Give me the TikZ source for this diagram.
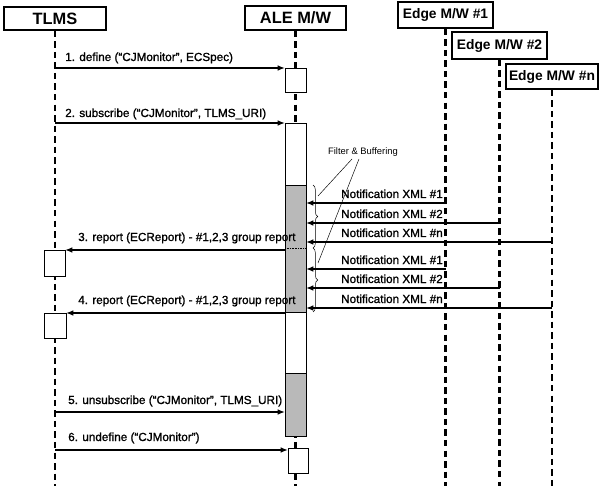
\documentclass[tikz,border=0pt]{standalone}
\usepackage{fontspec}
\setmainfont{Liberation Sans}
\newfontfamily\scanfont{Liberation Sans}[FakeBold=1.2]
\usetikzlibrary{arrows.meta,decorations.pathreplacing}

\begin{document}
\begin{tikzpicture}[x=0.03cm, y=-0.03cm,
      obj/.style={draw, line width=1.3pt, fill=white, inner sep=0pt,
        font=\bfseries\fontsize{14}{16}\selectfont},
      edgeobj/.style={obj, font=\bfseries\fontsize{11.8}{14}\selectfont},
      lifeline/.style={line width=2pt, dash pattern=on 5.5pt off 3.5pt},
      msg/.style={-{Latex[length=2.2mm, width=1.7mm]}, line width=1.2pt},
      lbl/.style={font=\scanfont\fontsize{10}{12}\selectfont, inner sep=0pt},
      act/.style={draw, thin, fill=white},
      busy/.style={draw, thin, fill=gray!55},
      note/.style={font=\fontsize{8}{10}\selectfont, inner sep=1pt},
    ]
    \useasboundingbox (0,0) rectangle (599,486);
    \coordinate (bottom) at (0,486);

    % Objects
    \node[obj, minimum width=3.06cm, minimum height=0.69cm] (tlms) at (55,18.5) {TLMS};
    \node[obj, minimum width=3.03cm, minimum height=0.72cm] (ale) at (295.5,18) {ALE M/W};
    \node[edgeobj, minimum width=2.85cm, minimum height=0.78cm] (e1) at (445.5,15) {Edge M/W \#1};
    \node[edgeobj, minimum width=2.85cm, minimum height=0.81cm] (e2) at (499.5,45.5) {Edge M/W \#2};
    \node[edgeobj, minimum width=2.76cm, minimum height=0.75cm] (en) at (552,76.5) {Edge M/W \#n};

    % Lifelines
    \foreach \o in {tlms, ale, e1, e2, en}
      \draw[lifeline] (\o.south) -- (\o |- bottom);

    % ALE activations
    \draw[act] (285,68) rectangle (306,92);
    \draw[act] (285,123) rectangle (306,185);
    \draw[busy] (285,185) rectangle (306,312);
    \draw[densely dotted] (285,248) -- (306,248);
    \draw[act] (285,312) rectangle (306,373);
    \draw[busy] (285,373) rectangle (306,436);
    \draw[act] (288,448) rectangle (308,473);

    % TLMS activations
    \draw[act] (44,250) rectangle (65,276);
    \draw[act] (44,313) rectangle (66,338);

    % Requests from TLMS
    \foreach \y/\x in {68/285, 123/285, 412/285, 450/288} {
      \coordinate (r\y) at (\x,\y);
      \draw[msg] (tlms |- r\y) -- (r\y);
    }
    \node[lbl, anchor=base west] (l1) at (65,61) {1. define (“CJMonitor”, ECSpec)};
    \node[lbl, anchor=base west] (l2) at (65,117) {2. subscribe (“CJMonitor”, TLMS\_URI)};
    \node[lbl, anchor=base west] (l5) at (68,404) {5. unsubscribe (“CJMonitor”, TLMS\_URI)};
    \node[lbl, anchor=base west] (l6) at (68,441) {6. undefine (“CJMonitor”)};

    % Reports to TLMS
    \foreach \y/\x/\n in {250/65/3, 313/66/4} {
      \coordinate (s\y) at (285,\y);
      \coordinate (t\y) at (\x,\y);
      \draw[msg] (s\y) -- (t\y);
      \node[lbl, anchor=base west] (l\n) at (78,\y-9)
        {\n. report (ECReport) - \#1,2,3 group report};
    }

    % Notifications from the edges
    \foreach \y/\src/\k in {203/e1/1, 223/e2/2, 242/en/n, 269/e1/1, 288/e2/2, 308/en/n} {
      \coordinate (n\y) at (306,\y);
      \draw[msg] (\src |- n\y) -- (n\y);
      \node[lbl, anchor=base east] (nl\y) at (443,\y-5) {Notification XML \#\k};
    }

    % Filter & Buffering
    \draw[thin, decorate, decoration={brace, amplitude=4pt}] (313,185) -- (313,248);
    \draw[thin, decorate, decoration={brace, amplitude=4pt}] (313,248) -- (313,312);
    \node[note] (fb) at (363,152) {Filter \& Buffering};
    \coordinate (fbA) at (352,159);
    \coordinate (fbB) at (359,159);
    \coordinate (brA) at (318,196);
    \coordinate (brB) at (318,263);
    \draw[thin] (fbA) -- (brA);
    \draw[thin] (fbB) -- (brB);
  \end{tikzpicture}
\end{document}
